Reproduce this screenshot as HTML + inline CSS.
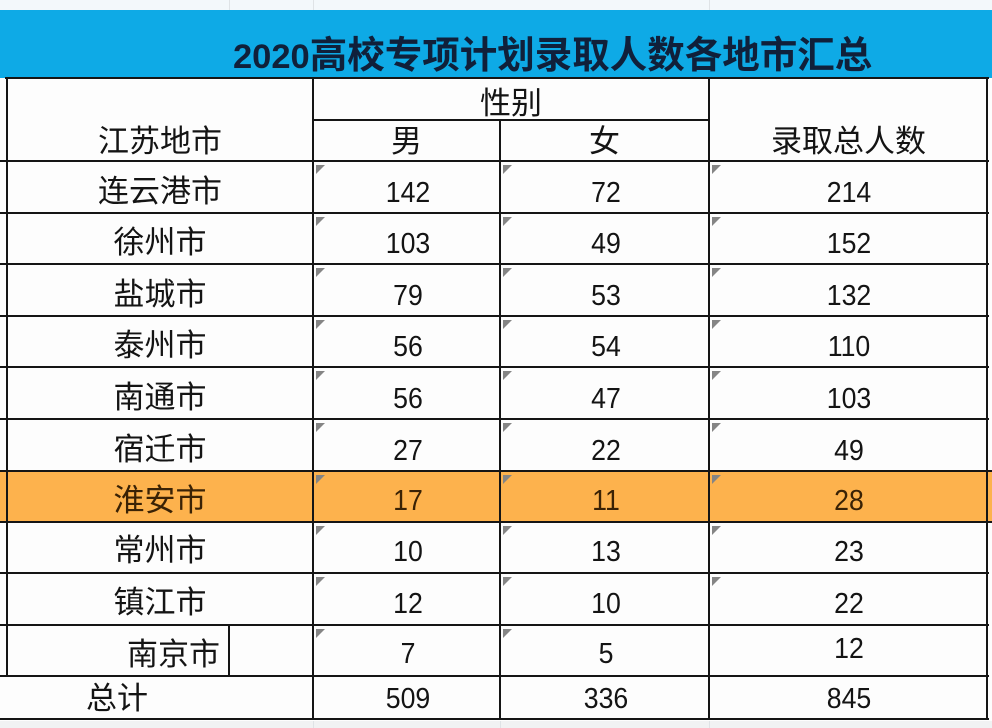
<!DOCTYPE html>
<html>
<head>
<meta charset="utf-8">
<style>
html,body{margin:0;padding:0;}
body{width:992px;height:728px;position:relative;overflow:hidden;background:#fdfdfd;font-family:"Liberation Sans","Noto Sans CJK SC",sans-serif;color:#141414;}
.a{position:absolute;}
.h{position:absolute;height:2px;background:#151515;}
.v{position:absolute;width:2px;background:#151515;}
.cn{position:absolute;font-size:31px;line-height:31px;text-align:center;white-space:nowrap;}
.n{position:absolute;font-size:29px;line-height:25.7px;text-align:center;white-space:nowrap;transform:scaleX(0.92);}
.t{position:absolute;width:0;height:0;border-top:9px solid #858585;border-right:9px solid transparent;}
.g{position:absolute;width:1px;background:#dfe3e6;}
</style>
</head>
<body>
<!-- top strip -->
<div class="a" style="left:0;top:0;width:992px;height:10px;background:#f3f8fb;"></div>
<div class="g" style="left:229px;top:0;height:10px;"></div>
<div class="g" style="left:313px;top:0;height:10px;"></div>
<div class="g" style="left:709px;top:0;height:10px;"></div>
<!-- blue band -->
<div class="a" style="left:0;top:10px;width:992px;height:68px;background:#0eaae6;"></div>
<div class="a" style="left:233px;top:37px;font-size:37.5px;line-height:37.5px;font-weight:bold;color:#10203a;white-space:nowrap;"><span style="font-size:34.5px;">2020</span>高校专项计划录取人数各地市汇总</div>
<!-- bottom strip -->
<div class="a" style="left:0;top:721px;width:992px;height:7px;background:#f1f2f3;"></div>
<div class="g" style="left:313px;top:721px;height:7px;"></div>
<div class="g" style="left:500px;top:721px;height:7px;"></div>
<div class="g" style="left:709px;top:721px;height:7px;"></div>
<!-- orange row -->
<div class="a" style="left:0;top:472px;width:992px;height:50px;background:#fdb24d;"></div>

<!-- horizontal lines -->
<div class="h" style="left:5px;top:77px;width:984px;"></div>
<div class="h" style="left:313px;top:119px;width:396px;"></div>
<div class="h" style="left:0;top:160px;width:989px;"></div>
<div class="h" style="left:0;top:212px;width:989px;"></div>
<div class="h" style="left:0;top:263px;width:989px;"></div>
<div class="h" style="left:0;top:315px;width:989px;"></div>
<div class="h" style="left:0;top:366px;width:989px;"></div>
<div class="h" style="left:0;top:418px;width:989px;"></div>
<div class="h" style="left:0;top:470px;width:992px;"></div>
<div class="h" style="left:0;top:521px;width:992px;"></div>
<div class="h" style="left:0;top:572px;width:989px;"></div>
<div class="h" style="left:0;top:624px;width:989px;"></div>
<div class="h" style="left:0;top:675px;width:989px;"></div>
<div class="h" style="left:0;top:718px;width:989px;"></div>
<!-- vertical lines -->
<div class="v" style="left:6px;top:77px;height:600px;"></div>
<div class="v" style="left:312px;top:77px;height:643px;"></div>
<div class="v" style="left:499px;top:119px;height:601px;"></div>
<div class="v" style="left:708px;top:77px;height:643px;"></div>
<div class="v" style="left:986px;top:77px;height:643px;"></div>
<div class="v" style="left:228px;top:624px;height:53px;"></div>

<!-- header -->
<div class="cn" style="left:7px;width:306px;top:126px;">江苏地市</div>
<div class="cn" style="left:313px;width:396px;top:88px;">性别</div>
<div class="cn" style="left:313px;width:187px;top:126px;">男</div>
<div class="cn" style="left:500px;width:209px;top:126px;">女</div>
<div class="cn" style="left:709px;width:279px;top:126px;">录取总人数</div>

<!-- row 1 -->
<div class="cn" style="left:7px;width:306px;top:176px;">连云港市</div>
<div class="n" style="left:313px;width:190px;top:181px;">142</div>
<div class="n" style="left:500px;width:212px;top:181px;">72</div>
<div class="n" style="left:709px;width:280px;top:181px;">214</div>
<!-- row 2 -->
<div class="cn" style="left:7px;width:306px;top:227px;">徐州市</div>
<div class="n" style="left:313px;width:190px;top:232px;">103</div>
<div class="n" style="left:500px;width:212px;top:232px;">49</div>
<div class="n" style="left:709px;width:280px;top:232px;">152</div>
<!-- row 3 -->
<div class="cn" style="left:7px;width:306px;top:279px;">盐城市</div>
<div class="n" style="left:313px;width:190px;top:284px;">79</div>
<div class="n" style="left:500px;width:212px;top:284px;">53</div>
<div class="n" style="left:709px;width:280px;top:284px;">132</div>
<!-- row 4 -->
<div class="cn" style="left:7px;width:306px;top:330px;">泰州市</div>
<div class="n" style="left:313px;width:190px;top:335px;">56</div>
<div class="n" style="left:500px;width:212px;top:335px;">54</div>
<div class="n" style="left:709px;width:280px;top:335px;">110</div>
<!-- row 5 -->
<div class="cn" style="left:7px;width:306px;top:382px;">南通市</div>
<div class="n" style="left:313px;width:190px;top:387px;">56</div>
<div class="n" style="left:500px;width:212px;top:387px;">47</div>
<div class="n" style="left:709px;width:280px;top:387px;">103</div>
<!-- row 6 -->
<div class="cn" style="left:7px;width:306px;top:434px;">宿迁市</div>
<div class="n" style="left:313px;width:190px;top:439px;">27</div>
<div class="n" style="left:500px;width:212px;top:439px;">22</div>
<div class="n" style="left:709px;width:280px;top:439px;">49</div>
<!-- row 7 highlighted -->
<div class="cn" style="left:7px;width:306px;top:485px;color:#3a2205;">淮安市</div>
<div class="n" style="left:313px;width:190px;top:489px;color:#3a2205;">17</div>
<div class="n" style="left:500px;width:212px;top:489px;color:#3a2205;">11</div>
<div class="n" style="left:709px;width:280px;top:489px;color:#3a2205;">28</div>
<!-- row 8 -->
<div class="cn" style="left:7px;width:306px;top:535px;">常州市</div>
<div class="n" style="left:313px;width:190px;top:540px;">10</div>
<div class="n" style="left:500px;width:212px;top:540px;">13</div>
<div class="n" style="left:709px;width:280px;top:540px;">23</div>
<!-- row 9 -->
<div class="cn" style="left:7px;width:306px;top:587px;">镇江市</div>
<div class="n" style="left:313px;width:190px;top:592px;">12</div>
<div class="n" style="left:500px;width:212px;top:592px;">10</div>
<div class="n" style="left:709px;width:280px;top:592px;">22</div>
<!-- row 10 -->
<div class="cn" style="left:127px;top:639px;text-align:left;">南京市</div>
<div class="n" style="left:313px;width:190px;top:642px;">7</div>
<div class="n" style="left:500px;width:212px;top:642px;">5</div>
<div class="n" style="left:709px;width:280px;top:637px;">12</div>
<!-- total -->
<div class="cn" style="left:86px;top:683px;text-align:left;">总计</div>
<div class="n" style="left:313px;width:190px;top:687px;">509</div>
<div class="n" style="left:500px;width:212px;top:687px;">336</div>
<div class="n" style="left:709px;width:280px;top:687px;">845</div>

<!-- triangles -->
<div class="t" style="left:316px;top:165px;"></div><div class="t" style="left:503px;top:165px;"></div><div class="t" style="left:712px;top:165px;"></div>
<div class="t" style="left:316px;top:217px;"></div><div class="t" style="left:503px;top:217px;"></div><div class="t" style="left:712px;top:217px;"></div>
<div class="t" style="left:316px;top:268px;"></div><div class="t" style="left:503px;top:268px;"></div><div class="t" style="left:712px;top:268px;"></div>
<div class="t" style="left:316px;top:320px;"></div><div class="t" style="left:503px;top:320px;"></div><div class="t" style="left:712px;top:320px;"></div>
<div class="t" style="left:316px;top:371px;"></div><div class="t" style="left:503px;top:371px;"></div><div class="t" style="left:712px;top:371px;"></div>
<div class="t" style="left:316px;top:423px;"></div><div class="t" style="left:503px;top:423px;"></div><div class="t" style="left:712px;top:423px;"></div>
<div class="t" style="left:316px;top:475px;"></div><div class="t" style="left:503px;top:475px;"></div><div class="t" style="left:712px;top:475px;"></div>
<div class="t" style="left:316px;top:526px;"></div><div class="t" style="left:503px;top:526px;"></div><div class="t" style="left:712px;top:526px;"></div>
<div class="t" style="left:316px;top:577px;"></div><div class="t" style="left:503px;top:577px;"></div><div class="t" style="left:712px;top:577px;"></div>
<div class="t" style="left:316px;top:629px;"></div><div class="t" style="left:503px;top:629px;"></div>
</body>
</html>
